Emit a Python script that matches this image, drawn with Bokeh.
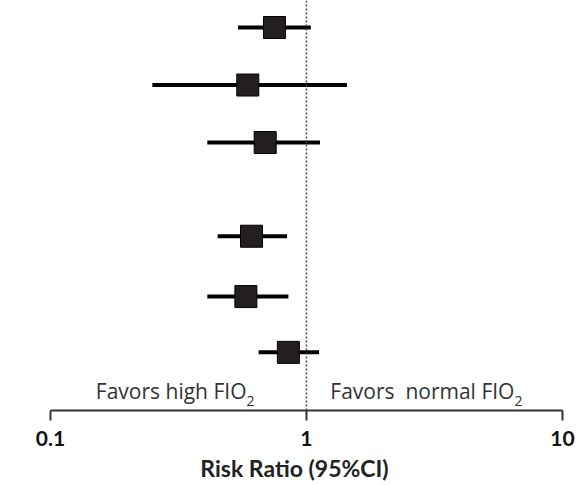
from bokeh.plotting import figure
from bokeh.models import Range1d, Span, Label, FixedTicker, ColumnDataSource
from bokeh.embed import file_html
from bokeh.resources import INLINE

# Data (risk ratios with 95% CI), top to bottom
rows = [0, 1, 2, 3.63, 4.68, 5.65]
rr = [0.75, 0.59, 0.69, 0.61, 0.58, 0.85]
lo = [0.54, 0.25, 0.41, 0.45, 0.41, 0.65]
hi = [1.04, 1.44, 1.13, 0.84, 0.85, 1.12]
ticks = [0.1, 1, 10]
tick_labels = ["0.1", "1", "10"]
x_title = "Risk Ratio (95%CI)"

src = ColumnDataSource(dict(row=rows, rr=rr, lo=lo, hi=hi))

FONT = "Lato"
TXT_FONT = "Open Sans"

p = figure(width=588, height=485, x_axis_type="log", y_axis_location=None,
           output_backend="svg", toolbar_location=None,
           x_range=Range1d(10 ** -1.195, 10 ** 1.1016),
           y_range=Range1d(6.661, -0.47),
           min_border_left=0, min_border_right=0, min_border_top=0,
           min_border_bottom=75)
p.outline_line_color = None
p.xgrid.visible = False
p.ygrid.visible = False
p.background_fill_color = "white"
p.border_fill_color = "white"

# reference line at RR = 1
p.add_layout(Span(location=1, dimension="height", line_color="#444444",
                  line_dash="2 2", line_width=1.5))

p.segment(x0="lo", x1="hi", y0="row", y1="row", source=src,
          line_color="black", line_width=4)
p.scatter(x="rr", y="row", source=src, marker="square", size=22,
          fill_color="#231f20", line_color="black", line_width=1)

ax = p.xaxis[0]
ax.ticker = FixedTicker(ticks=ticks, minor_ticks=[])
ax.major_label_overrides = {t: l for t, l in zip(ticks, tick_labels)}
ax.bounds = (0.1, 10)
ax.axis_line_color = "#333333"
ax.axis_line_width = 2
ax.major_tick_line_color = "#333333"
ax.major_tick_line_width = 2
ax.major_tick_out = 10
ax.major_tick_in = 0
ax.minor_tick_out = 0
ax.minor_tick_in = 0
ax.major_label_standoff = 10
ax.major_label_text_font = FONT
ax.major_label_text_font_style = "bold"
ax.major_label_text_font_size = "21px"
ax.major_label_text_color = "#111111"
ax.axis_label = x_title
ax.axis_label_text_font = FONT
ax.axis_label_text_font_style = "bold"
ax.axis_label_text_font_size = "23px"
ax.axis_label_text_color = "#222222"
ax.axis_label_standoff = 5

fav_y = 6.33
sub_y = 6.5
txt = dict(text_font=TXT_FONT, text_color="#333333", text_baseline="middle")
p.add_layout(Label(x=0.583, y=fav_y, text="Favors high FIO", text_align="right",
                   text_font_size="21px", **txt))
p.add_layout(Label(x=0.583, y=sub_y, text="2", text_align="left",
                   text_font_size="14px", **txt))
p.add_layout(Label(x=6.49, y=fav_y, text="Favors\u00a0 normal FIO",
                   text_align="right", text_font_size="21px", **txt))
p.add_layout(Label(x=6.49, y=sub_y, text="2", text_align="left",
                   text_font_size="14px", **txt))

open("out.html", "w").write(file_html(p, INLINE))
